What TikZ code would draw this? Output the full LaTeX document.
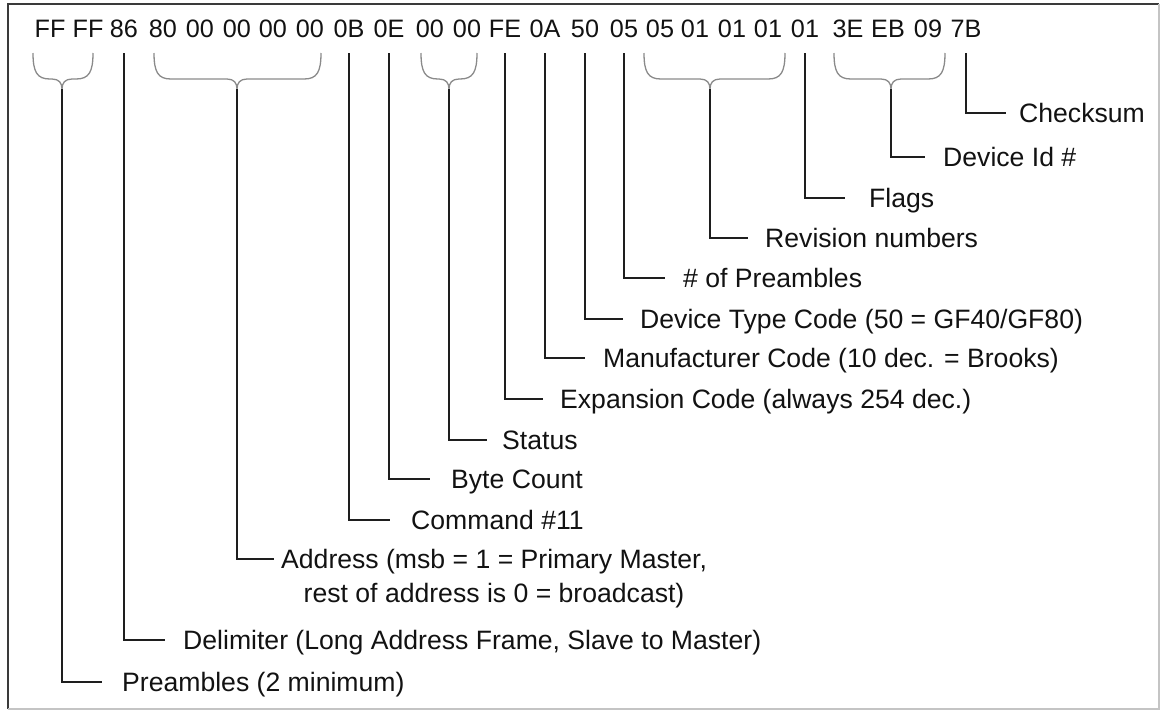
\documentclass[tikz,border=0pt]{standalone}
\usepackage{fontspec}
\setmainfont{Liberation Sans}
\definecolor{txt}{HTML}{121212}
\definecolor{linec}{HTML}{1E1E1E}
\definecolor{bracec}{HTML}{8A8A8A}
\definecolor{frameD}{HTML}{3A3A3A}
\definecolor{frameL}{HTML}{C4C4C4}
\newcommand{\hexbrace}[4]{%
  \draw[brc] (#2,53) .. controls (#2,72) and (#2+4,79) .. (#2+17,79)
    -- (#3-10,79) .. controls (#3-3,79) and (#3,83) .. (#3,89)
    .. controls (#3,83) and (#3+3,79) .. (#3+10,79)
    -- (#4-17,79) .. controls (#4-4,79) and (#4,72) .. (#4,53);
  \coordinate (#1) at (#3,89);}
\begin{document}
\begin{tikzpicture}[x=1pt,y=-1pt,
  hex/.style={font=\fontsize{25.2}{28}\selectfont, text=txt, inner sep=0pt,
              text depth=0pt, anchor=base},
  lab/.style={font=\fontsize{26.6}{33.5}\selectfont, text=txt, inner sep=0pt,
              text height=19pt, text depth=0pt, anchor=west},
  conn/.style={draw=linec, line width=1.5pt},
  tokconn/.style={conn, shorten <=16pt},
  brc/.style={draw=bracec, line width=1.3pt},
]
\useasboundingbox (0,0) rectangle (1160,710);
% frame
\draw[line width=2.6pt, draw=frameD] (8,709) -- (8,4) -- (1159,4);
\draw[line width=1.8pt, draw=frameL] (1159,4) -- (1159,709) -- (8,709);

% hex tokens
\foreach \n/\x/\t in {1/50/FF, 2/88/FF, 3/124/86, 4/163/80, 5/200/00, 6/237/00,
  7/273/00, 8/310/00, 9/349/0B, 10/389/0E, 11/430/00, 12/467/00, 13/505/FE,
  14/545/0A, 15/585/50, 16/624/05, 17/660/05, 18/695/01, 19/732/01, 20/768/01,
  21/805/01, 22/848/3E, 23/888/EB, 24/928/09, 25/966/7B}
  {\node[hex] (t\n) at (\x,37) {\t};}

% braces
\hexbrace{bPre}{33}{62}{93}
\hexbrace{bAddr}{154}{237}{321}
\hexbrace{bStat}{421}{449}{477}
\hexbrace{bRev}{644}{710}{785}
\hexbrace{bDev}{834}{891}{945}

% labels
\node[lab] (lChk)  at (1019,113) {Checksum};
\node[lab] (lDev)  at (943,157)  {Device Id \#};
\node[lab] (lFlg)  at (869,198)  {Flags};
\node[lab] (lRev)  at (765,238)  {Revision numbers};
\node[lab] (lNPre) at (683,278)  {\# of Preambles};
\node[lab] (lType) at (640,319)  {Device Type Code (50 = GF40/GF80)};
\node[lab] (lMan)  at (603,358)  {Manufacturer Code (10 dec. = Brooks)};
\node[lab] (lExp)  at (560,399)  {Expansion Code (always 254 dec.)};
\node[lab] (lStat) at (502,440)  {Status};
\node[lab] (lByte) at (451,479)  {Byte Count};
\node[lab] (lCmd)  at (411,520)  {Command \#11};
\node[lab] (lAddr) at (281,559)  {\def\arraystretch{1.0}\begin{tabular}[t]{@{}c@{}}Address (msb = 1 = Primary Master,\\ rest of address is 0 = broadcast)\end{tabular}};
\node[lab] (lDel)  at (183,640)  {Delimiter (Long Address Frame, Slave to Master)};
\node[lab] (lPre)  at (122,682)  {Preambles (2 minimum)};

% line ends
\coordinate (eChk)  at (1006,113);
\coordinate (eDev)  at (925,157);
\coordinate (eFlg)  at (845,198);
\coordinate (eRev)  at (748,238);
\coordinate (eNPre) at (665,278);
\coordinate (eType) at (623,319);
\coordinate (eMan)  at (585,358);
\coordinate (eExp)  at (543,399);
\coordinate (eStat) at (487,440);
\coordinate (eByte) at (430,479);
\coordinate (eCmd)  at (390,520);
\coordinate (eAddr) at (274,559);
\coordinate (eDel)  at (165,640);
\coordinate (ePre)  at (102,682);

% connectors
\draw[tokconn] (t25) |- (eChk);
\draw[conn]    (bDev) |- (eDev);
\draw[tokconn] (t21) |- (eFlg);
\draw[conn]    (bRev) |- (eRev);
\draw[tokconn] (t16) |- (eNPre);
\draw[tokconn] (t15) |- (eType);
\draw[tokconn] (t14) |- (eMan);
\draw[tokconn] (t13) |- (eExp);
\draw[conn]    (bStat) |- (eStat);
\draw[tokconn] (t10) |- (eByte);
\draw[tokconn] (t9)  |- (eCmd);
\draw[conn]    (bAddr) |- (eAddr);
\draw[tokconn] (t3)  |- (eDel);
\draw[conn]    (bPre) |- (ePre);
\end{tikzpicture}
\end{document}
